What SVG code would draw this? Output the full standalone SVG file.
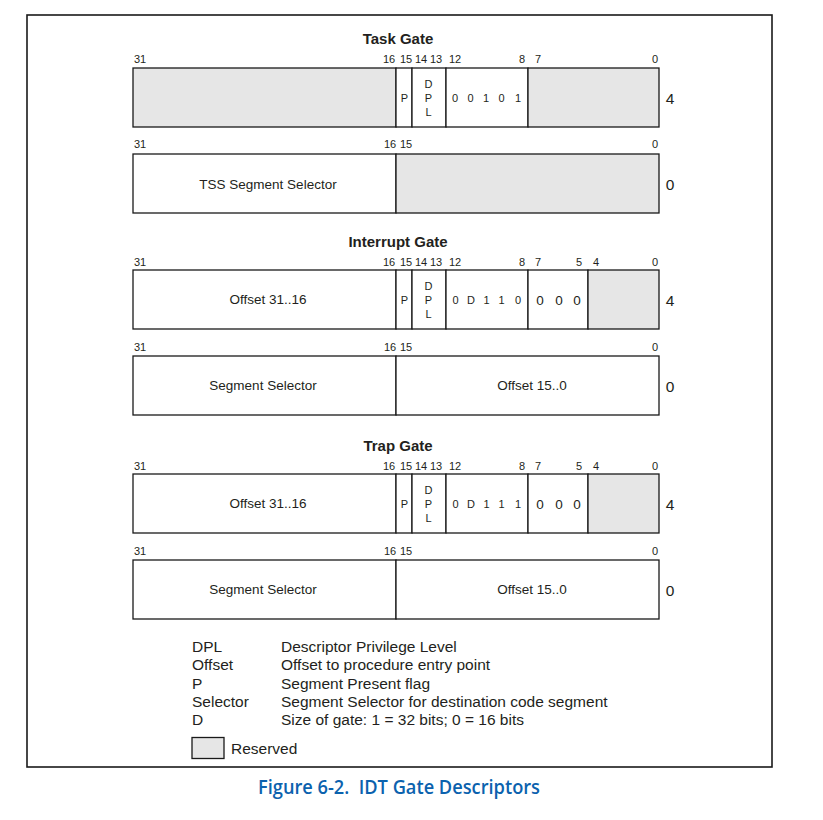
<svg xmlns="http://www.w3.org/2000/svg" width="823" height="820" viewBox="0 0 823 820">
  <style>
    text { font-family: "Liberation Sans", Arial, sans-serif; fill: #231f20; }
    .frame { fill: none; stroke: #1a1a1a; stroke-width: 1.6; }
    .cell { fill: #ffffff; stroke: #1a1a1a; stroke-width: 1.3; }
    .rsv { fill: #e6e6e6; stroke: #1a1a1a; stroke-width: 1.3; }
    .title { font-size: 15px; font-weight: bold; text-anchor: middle; }
    .bit { font-size: 11px; text-anchor: middle; }
    .fld { font-size: 13.5px; text-anchor: middle; }
    .sm { font-size: 11px; text-anchor: middle; }
    .md { font-size: 13.5px; text-anchor: middle; }
    .off { font-size: 15.5px; text-anchor: middle; }
    .leg { font-size: 15.5px; }
    .cap { font-family: "Open Sans", "Liberation Sans", sans-serif; font-size: 19px; font-weight: 600; fill: #0b62ae; }
  </style>

  <!-- outer figure frame -->
  <rect class="frame" x="27" y="15" width="745" height="752"/>

  <!-- ===== Task Gate ===== -->
  <text class="title" x="398" y="43.5">Task Gate</text>

  <g id="task-gate-hi">
    <text class="bit" x="140" y="63">31</text>
    <text class="bit" x="389" y="63">16</text>
    <text class="bit" x="406" y="63">15</text>
    <text class="bit" x="421" y="63">14</text>
    <text class="bit" x="436" y="63">13</text>
    <text class="bit" x="455" y="63">12</text>
    <text class="bit" x="522" y="63">8</text>
    <text class="bit" x="538" y="63">7</text>
    <text class="bit" x="655" y="63">0</text>
    <rect class="rsv" x="133" y="68" width="263" height="59"/>
    <rect class="cell" x="396" y="68" width="16" height="59"/>
    <rect class="cell" x="412" y="68" width="34" height="59"/>
    <rect class="cell" x="446" y="68" width="82" height="59"/>
    <rect class="rsv" x="528" y="68" width="131" height="59"/>
    <text class="sm" x="404.5" y="102">P</text>
    <text class="sm" x="428.5" y="88">D</text>
    <text class="sm" x="428.5" y="102">P</text>
    <text class="sm" x="428.5" y="116">L</text>
    <text class="sm" x="455" y="102">0</text>
    <text class="sm" x="470.5" y="102">0</text>
    <text class="sm" x="486" y="102">1</text>
    <text class="sm" x="501.5" y="102">0</text>
    <text class="sm" x="518" y="102">1</text>
    <text class="off" x="670" y="104">4</text>
  </g>

  <g id="task-gate-lo">
    <text class="bit" x="140" y="148">31</text>
    <text class="bit" x="390" y="148">16</text>
    <text class="bit" x="406" y="148">15</text>
    <text class="bit" x="655" y="148">0</text>
    <rect class="cell" x="133" y="154" width="263" height="59"/>
    <rect class="rsv" x="396" y="154" width="263" height="59"/>
    <text class="fld" x="268" y="188.5">TSS Segment Selector</text>
    <text class="off" x="670" y="189.5">0</text>
  </g>

  <!-- ===== Interrupt Gate ===== -->
  <text class="title" x="398" y="246.5">Interrupt Gate</text>

  <g id="interrupt-gate-hi">
    <text class="bit" x="140" y="266">31</text>
    <text class="bit" x="389" y="266">16</text>
    <text class="bit" x="406" y="266">15</text>
    <text class="bit" x="421" y="266">14</text>
    <text class="bit" x="436" y="266">13</text>
    <text class="bit" x="455" y="266">12</text>
    <text class="bit" x="522" y="266">8</text>
    <text class="bit" x="538" y="266">7</text>
    <text class="bit" x="579" y="266">5</text>
    <text class="bit" x="596" y="266">4</text>
    <text class="bit" x="655" y="266">0</text>
    <rect class="cell" x="133" y="270" width="263" height="59"/>
    <rect class="cell" x="396" y="270" width="16" height="59"/>
    <rect class="cell" x="412" y="270" width="34" height="59"/>
    <rect class="cell" x="446" y="270" width="82" height="59"/>
    <rect class="cell" x="528" y="270" width="60" height="59"/>
    <rect class="rsv" x="588" y="270" width="71" height="59"/>
    <text class="fld" x="268" y="304">Offset 31..16</text>
    <text class="sm" x="404.5" y="304">P</text>
    <text class="sm" x="428.5" y="290">D</text>
    <text class="sm" x="428.5" y="304">P</text>
    <text class="sm" x="428.5" y="318">L</text>
    <text class="sm" x="455.5" y="304">0</text>
    <text class="sm" x="471" y="304">D</text>
    <text class="sm" x="486.5" y="304">1</text>
    <text class="sm" x="501.5" y="304">1</text>
    <text class="sm" x="518" y="304">0</text>
    <text class="md" x="540" y="305">0</text>
    <text class="md" x="559" y="305">0</text>
    <text class="md" x="577" y="305">0</text>
    <text class="off" x="670" y="306">4</text>
  </g>

  <g id="interrupt-gate-lo">
    <text class="bit" x="140" y="351">31</text>
    <text class="bit" x="390" y="351">16</text>
    <text class="bit" x="406" y="351">15</text>
    <text class="bit" x="655" y="351">0</text>
    <rect class="cell" x="133" y="356" width="263" height="59"/>
    <rect class="cell" x="396" y="356" width="263" height="59"/>
    <text class="fld" x="263" y="390">Segment Selector</text>
    <text class="fld" x="532" y="390">Offset 15..0</text>
    <text class="off" x="670" y="391.5">0</text>
  </g>

  <!-- ===== Trap Gate ===== -->
  <text class="title" x="398" y="450.5">Trap Gate</text>

  <g id="trap-gate-hi">
    <text class="bit" x="140" y="470">31</text>
    <text class="bit" x="389" y="470">16</text>
    <text class="bit" x="406" y="470">15</text>
    <text class="bit" x="421" y="470">14</text>
    <text class="bit" x="436" y="470">13</text>
    <text class="bit" x="455" y="470">12</text>
    <text class="bit" x="522" y="470">8</text>
    <text class="bit" x="538" y="470">7</text>
    <text class="bit" x="579" y="470">5</text>
    <text class="bit" x="596" y="470">4</text>
    <text class="bit" x="655" y="470">0</text>
    <rect class="cell" x="133" y="474" width="263" height="59"/>
    <rect class="cell" x="396" y="474" width="16" height="59"/>
    <rect class="cell" x="412" y="474" width="34" height="59"/>
    <rect class="cell" x="446" y="474" width="82" height="59"/>
    <rect class="cell" x="528" y="474" width="60" height="59"/>
    <rect class="rsv" x="588" y="474" width="71" height="59"/>
    <text class="fld" x="268" y="508">Offset 31..16</text>
    <text class="sm" x="404.5" y="508">P</text>
    <text class="sm" x="428.5" y="494">D</text>
    <text class="sm" x="428.5" y="508">P</text>
    <text class="sm" x="428.5" y="522">L</text>
    <text class="sm" x="455.5" y="508">0</text>
    <text class="sm" x="471" y="508">D</text>
    <text class="sm" x="486.5" y="508">1</text>
    <text class="sm" x="501.5" y="508">1</text>
    <text class="sm" x="518" y="508">1</text>
    <text class="md" x="540" y="509">0</text>
    <text class="md" x="559" y="509">0</text>
    <text class="md" x="577" y="509">0</text>
    <text class="off" x="670" y="510">4</text>
  </g>

  <g id="trap-gate-lo">
    <text class="bit" x="140" y="555">31</text>
    <text class="bit" x="390" y="555">16</text>
    <text class="bit" x="406" y="555">15</text>
    <text class="bit" x="655" y="555">0</text>
    <rect class="cell" x="133" y="560" width="263" height="59"/>
    <rect class="cell" x="396" y="560" width="263" height="59"/>
    <text class="fld" x="263" y="594">Segment Selector</text>
    <text class="fld" x="532" y="594">Offset 15..0</text>
    <text class="off" x="670" y="595.5">0</text>
  </g>

  <!-- ===== Legend ===== -->
  <g id="legend">
    <text class="leg" x="192" y="652">DPL</text>
    <text class="leg" x="281" y="652">Descriptor Privilege Level</text>
    <text class="leg" x="192" y="670">Offset</text>
    <text class="leg" x="281" y="670">Offset to procedure entry point</text>
    <text class="leg" x="192" y="689">P</text>
    <text class="leg" x="281" y="689">Segment Present flag</text>
    <text class="leg" x="192" y="707">Selector</text>
    <text class="leg" x="281" y="707">Segment Selector for destination code segment</text>
    <text class="leg" x="192" y="725">D</text>
    <text class="leg" x="281" y="725">Size of gate: 1 = 32 bits; 0 = 16 bits</text>
    <rect class="rsv" x="192" y="737.5" width="32" height="21"/>
    <text class="leg" x="231" y="754">Reserved</text>
  </g>

  <!-- caption -->
  <text class="cap" x="258" y="794" textLength="282" lengthAdjust="spacingAndGlyphs" xml:space="preserve">Figure 6-2.  IDT Gate Descriptors</text>
</svg>
